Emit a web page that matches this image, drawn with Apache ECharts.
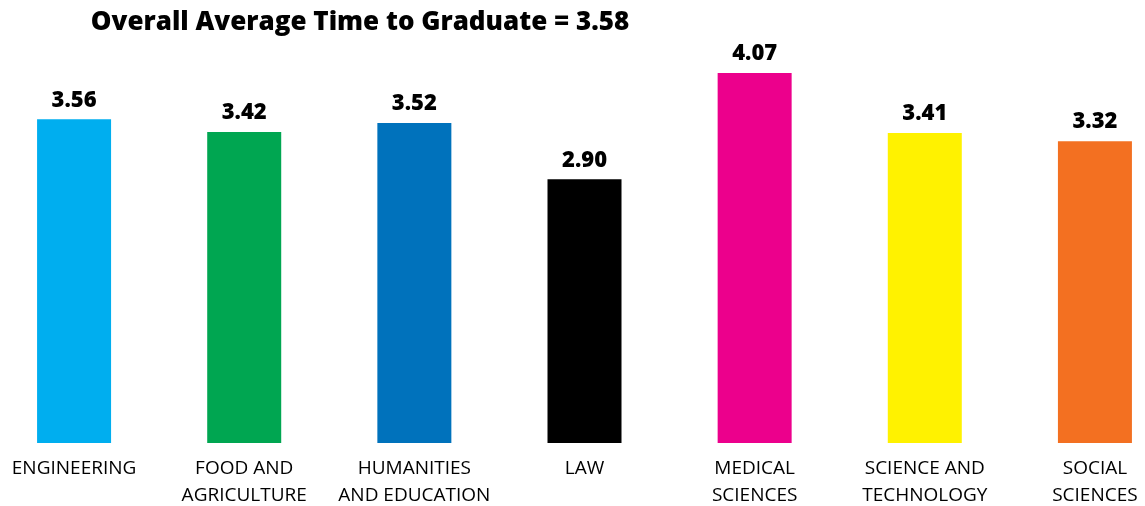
<!DOCTYPE html>
<html><head><meta charset="utf-8">
<script src="https://cdn.jsdelivr.net/npm/echarts@6/dist/echarts.min.js"></script>
<style>html,body{margin:0;padding:0;background:#fff}#c{width:1145px;height:506px}</style>
</head><body><div id="c"></div>
<script>
const categories = ["ENGINEERING","FOOD AND\nAGRICULTURE","HUMANITIES\nAND EDUCATION","LAW","MEDICAL\nSCIENCES","SCIENCE AND\nTECHNOLOGY","SOCIAL\nSCIENCES"];
const values = [3.56, 3.42, 3.52, 2.90, 4.07, 3.41, 3.32];
const colors = ["#00AEEF","#00A651","#0072BC","#000000","#EC008C","#FFF200","#F37021"];
const titleText = "Overall Average Time to Graduate = 3.58";

const chart = echarts.init(document.getElementById('c'), null, {renderer:'canvas'});
chart.setOption({
  animation:false,
  title:{text:titleText,left:355,top:5,textAlign:'center',
    textStyle:{fontFamily:'Open Sans',fontWeight:800,fontSize:26,color:'#000'}},
  grid:{left:-11,width:1191,top:73,bottom:63,containLabel:false,outerBoundsMode:'none'},
  xAxis:{type:'category',data:categories,
    axisLine:{show:false},axisTick:{show:false},
    axisLabel:{interval:0,margin:12,fontFamily:'Open Sans',fontSize:19,color:'#000',lineHeight:27}},
  yAxis:{type:'value',min:0,max:4.07,show:false,splitLine:{show:false}},
  series:[{type:'bar',barWidth:74,
    data:values.map((v,i)=>({value:v,itemStyle:{color:colors[i]}})),
    label:{show:true,position:'top',distance:8,formatter:p=>p.value.toFixed(2),
      fontFamily:'Open Sans',fontWeight:800,fontSize:22,color:'#000'}}]
});
</script></body></html>
